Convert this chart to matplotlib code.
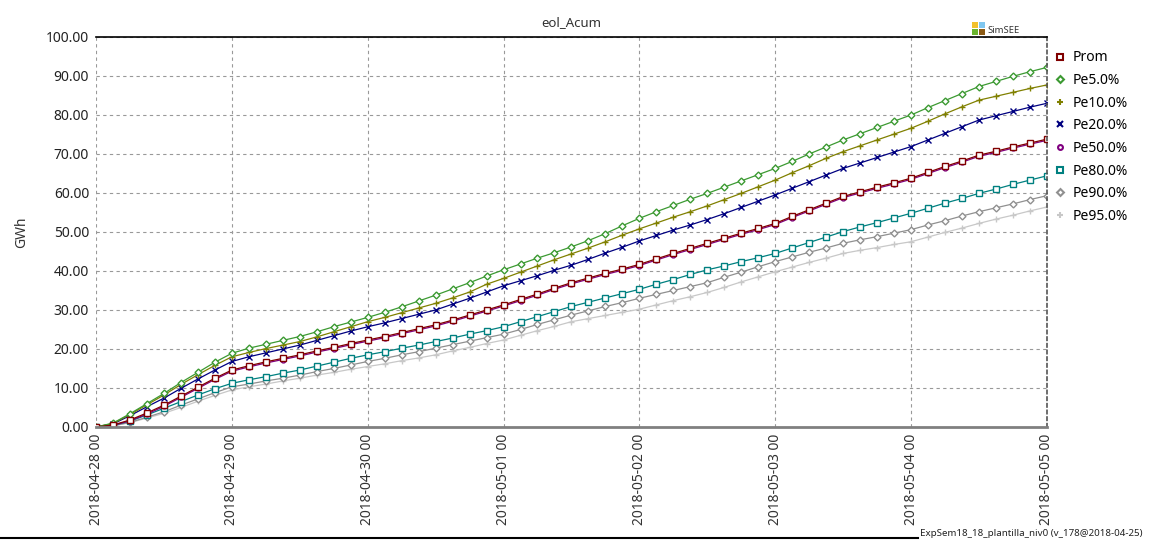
import numpy as np
import pandas as pd
import matplotlib
matplotlib.use('Agg')
import matplotlib.pyplot as plt
import matplotlib.dates as mdates
from matplotlib.patches import Rectangle
from matplotlib.lines import Line2D

plt.rcParams['font.family'] = ['Noto Sans', 'DejaVu Sans']

# time axis: one value every 3 hours from 2018-04-28 00 to 2018-05-05 00
start = '2018-04-28 00:00'
end = '2018-05-05 00:00'
step_hours = 3

prom = [0, 0.5, 1.8, 3.6, 5.6, 7.9, 10.2, 12.5, 14.6, 15.7, 16.7, 17.6, 18.5, 19.5, 20.4, 21.4,
        22.3, 23.2, 24.2, 25.2, 26.2, 27.4, 28.7, 30.0, 31.3, 32.7, 34.1, 35.6, 37.0, 38.2, 39.4,
        40.5, 41.7, 43.1, 44.5, 45.8, 47.1, 48.4, 49.7, 50.9, 52.2, 54.0, 55.7, 57.4, 59.1, 60.3,
        61.5, 62.6, 63.8, 65.3, 66.8, 68.2, 69.7, 70.7, 71.8, 72.8, 73.8]
pe5 = [0, 1.0, 3.4, 6.0, 8.6, 11.4, 14.0, 16.6, 18.9, 20.2, 21.2, 22.2, 23.2, 24.4, 25.7, 26.9,
       28.1, 29.4, 30.8, 32.3, 33.8, 35.4, 37.0, 38.7, 40.3, 41.8, 43.3, 44.7, 46.2, 47.8, 49.6,
       51.6, 53.5, 55.2, 56.8, 58.4, 59.9, 61.5, 63.1, 64.7, 66.3, 68.1, 70.0, 71.8, 73.6, 75.2,
       76.8, 78.4, 80.0, 81.9, 83.7, 85.5, 87.3, 88.6, 89.9, 91.1, 92.2]
pe10 = [0, 0.9, 3.2, 5.7, 8.2, 10.9, 13.4, 15.8, 18.0, 19.1, 20.1, 21.0, 21.9, 23.1, 24.4, 25.7,
        27.0, 28.1, 29.3, 30.5, 31.7, 33.1, 34.6, 36.6, 38.1, 39.7, 41.3, 42.9, 44.4, 45.9, 47.5,
        49.2, 50.8, 52.3, 53.8, 55.2, 56.7, 58.3, 59.9, 61.6, 63.3, 65.2, 67.0, 68.9, 70.6, 72.1,
        73.6, 75.1, 76.6, 78.4, 80.3, 82.1, 83.8, 84.8, 85.8, 86.8, 87.7]
pe20 = [0, 0.8, 2.9, 5.2, 7.4, 9.9, 12.3, 14.6, 16.8, 18.0, 19.0, 20.0, 21.0, 22.2, 23.4, 24.6,
        25.7, 26.7, 27.8, 28.9, 30.0, 31.5, 33.0, 34.6, 36.2, 37.5, 38.8, 40.2, 41.5, 43.0, 44.6,
        46.1, 47.7, 49.1, 50.5, 51.8, 53.2, 54.7, 56.3, 57.9, 59.5, 61.2, 62.9, 64.6, 66.3, 67.7,
        69.1, 70.5, 71.9, 73.6, 75.3, 77.0, 78.7, 79.8, 80.9, 82.0, 83.0]
pe50 = [0, 0.4, 1.6, 3.3, 5.3, 7.6, 9.9, 12.2, 14.3, 15.4, 16.4, 17.3, 18.2, 19.2, 20.1, 21.1,
        22.0, 22.9, 23.9, 24.9, 25.9, 27.1, 28.4, 29.7, 31.0, 32.4, 33.8, 35.3, 36.7, 37.9, 39.1,
        40.2, 41.4, 42.8, 44.2, 45.5, 46.8, 48.1, 49.4, 50.6, 51.9, 53.7, 55.4, 57.1, 58.8, 60.0,
        61.2, 62.3, 63.5, 65.0, 66.5, 67.9, 69.4, 70.4, 71.5, 72.5, 73.5]
pe80 = [0, 0.4, 1.5, 3.1, 4.8, 6.5, 8.2, 9.8, 11.2, 12.1, 12.9, 13.8, 14.6, 15.6, 16.6, 17.6,
        18.5, 19.3, 20.2, 21.0, 21.9, 22.8, 23.8, 24.7, 25.7, 27.0, 28.3, 29.6, 30.9, 32.0, 33.1,
        34.2, 35.3, 36.6, 37.8, 39.1, 40.3, 41.3, 42.4, 43.4, 44.5, 45.9, 47.3, 48.7, 50.1, 51.3,
        52.4, 53.6, 54.8, 56.1, 57.4, 58.6, 59.9, 61.0, 62.2, 63.3, 64.4]
pe90 = [0, 0.3, 1.2, 2.5, 3.9, 5.6, 7.2, 8.8, 10.3, 11.0, 11.8, 12.5, 13.3, 14.2, 15.0, 15.9,
        16.8, 17.6, 18.5, 19.3, 20.2, 21.1, 22.0, 22.9, 23.8, 25.0, 26.3, 27.5, 28.7, 29.8, 30.9,
        31.9, 33.0, 34.0, 35.0, 36.0, 37.0, 38.4, 39.7, 41.1, 42.4, 43.6, 44.8, 45.9, 47.1, 48.0,
        48.8, 49.7, 50.6, 51.8, 52.9, 54.1, 55.2, 56.2, 57.2, 58.3, 59.3]
pe95 = [0, 0.3, 1.1, 2.3, 3.5, 5.0, 6.6, 8.1, 9.5, 10.3, 11.0, 11.8, 12.5, 13.3, 14.0, 14.8,
        15.5, 16.2, 17.0, 17.7, 18.5, 19.5, 20.4, 21.4, 22.3, 23.5, 24.7, 25.8, 27.0, 27.8, 28.6,
        29.4, 30.2, 31.3, 32.4, 33.4, 34.5, 35.8, 37.2, 38.5, 39.8, 41.0, 42.2, 43.3, 44.5, 45.3,
        46.0, 46.8, 47.5, 48.7, 49.9, 51.0, 52.2, 53.3, 54.3, 55.4, 56.4]

names = ['Prom', 'Pe5.0%', 'Pe10.0%', 'Pe20.0%', 'Pe50.0%', 'Pe80.0%', 'Pe90.0%', 'Pe95.0%']
series = [prom, pe5, pe10, pe20, pe50, pe80, pe90, pe95]
colors = ['#800000', '#3c9a32', '#808000', '#000080', '#800080', '#008080', '#909090', '#c8c8c8']
markers = ['s', 'D', '+', 'x', 'o', 's', 'D', '+']
msizes = [4, 3.5, 5, 4, 3.5, 4, 3.5, 5]

times = pd.date_range(start, end, freq='%dh' % step_hours)
day_ticks = pd.date_range(start, end, freq='D')

fig = plt.figure(figsize=(11.49, 5.40), dpi=100)
ax = fig.add_axes([0.0836, 0.2093, 0.8275, 0.7222])

# draw from the bottom series up so the top ones stay visible
for name, vals, col, mk, ms in reversed(list(zip(names, series, colors, markers, msizes))):
    ax.plot(times, vals, color=col, lw=0.9, marker=mk, markersize=ms,
            markerfacecolor='white' if mk not in ('+', 'x') else col,
            markeredgecolor=col, markeredgewidth=1.0, label=name)

ax.set_xlim(pd.Timestamp(start), pd.Timestamp(end))
ax.set_ylim(0, 100)
ax.set_yticks(np.arange(0, 101, 10))
ax.yaxis.set_major_formatter(plt.FuncFormatter(lambda v, p: '%.2f' % v))
ax.set_xticks(day_ticks)
ax.xaxis.set_major_formatter(mdates.DateFormatter('%Y-%m-%d %H'))
plt.setp(ax.get_xticklabels(), rotation=90, fontsize=10, color='#333333')
plt.setp(ax.get_yticklabels(), fontsize=10, color='#222222')
ax.tick_params(length=0, pad=5)

ax.grid(True, color='#999999', linestyle=(0, (3, 3)), linewidth=0.8)
ax.spines['top'].set_color('black')
ax.spines['top'].set_linewidth(1.2)
ax.spines['left'].set_visible(False)
ax.spines['bottom'].set_color('#808080')
ax.spines['bottom'].set_linewidth(2)
ax.spines['right'].set_color('#555555')
ax.spines['right'].set_linestyle((0, (2, 2)))
ax.spines['right'].set_linewidth(1.2)

ax.set_title('eol_Acum', fontsize=9.5, color='#333333', pad=8)
ax.set_ylabel('GWh', fontsize=10, color='#333333', labelpad=12)

# legend on the right
handles = [Line2D([], [], linestyle='none', marker=mk, markersize=ms, color=col,
                  markerfacecolor='white' if mk not in ('+', 'x') else col,
                  markeredgecolor=col, markeredgewidth=1.5)
           for col, mk, ms in zip(colors, markers, msizes)]
fig.legend(handles, names, loc='upper left', bbox_to_anchor=(0.914, 0.917), frameon=False,
           fontsize=10, handlelength=0.6, handletextpad=0.6, labelspacing=0.55,
           borderaxespad=0)

# SimSEE logo: 2x2 coloured squares and the name
logo_cols = ['#f2c12e', '#7fc7f0', '#6ab42d', '#8b5a14']
W, H = 1149.0, 540.0
for i, c in enumerate(logo_cols):
    x0 = 972 + (i % 2) * 7
    y_top = 22 + (i // 2) * 7
    fig.patches.append(Rectangle((x0 / W, 1 - (y_top + 6) / H), 6 / W, 6 / H,
                                 transform=fig.transFigure, facecolor=c, edgecolor='none'))
fig.text(987 / W, 1 - 31 / H, 'SimSEE', fontsize=6.8, color='#333333', va='center')

fig.text(920 / W, 1 - 533 / H, 'ExpSem18_18_plantilla_niv0 (v_178@2018-04-25)',
         fontsize=7.0, color='#222222', va='center')
fig.add_artist(Line2D([0, 918 / W], [1 - 538 / H, 1 - 538 / H],
                      transform=fig.transFigure, color='black', lw=1.5))

fig.savefig('out.png', dpi=100, facecolor='white')
